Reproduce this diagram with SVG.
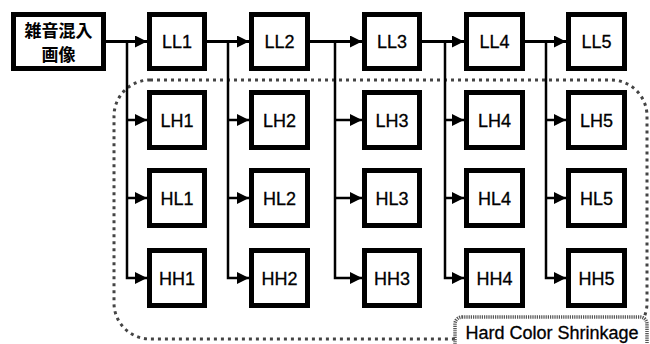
<svg xmlns="http://www.w3.org/2000/svg" width="650" height="344" viewBox="0 0 650 344">
  <style>
    .box { fill: #fff; stroke: #000; stroke-width: 5; }
    .lbl { font-family: "Liberation Sans", Arial, sans-serif; font-size: 18px; fill: #000; text-anchor: middle; stroke: #000; stroke-width: 0.3; }
    .cjk { font-family: "Noto Sans CJK JP", "Noto Sans CJK SC", sans-serif; font-size: 17px; font-weight: bold; fill: #000; text-anchor: middle; }
    .main { stroke: #000; stroke-width: 3; fill: none; }
    .branch { stroke: #000; stroke-width: 2.5; fill: none; }
    .region { fill: none; stroke: #444; stroke-width: 3; stroke-dasharray: 3 4; }
    .tag { fill: #fff; stroke: #555; stroke-width: 3.5; stroke-dasharray: 1.2 1; }
    .tagtext { font-family: "Liberation Sans", Arial, sans-serif; font-size: 18px; fill: #000; text-anchor: middle; stroke: #000; stroke-width: 0.3; }
  </style>
  <defs>
    <marker id="arrow" markerUnits="userSpaceOnUse" markerWidth="13" markerHeight="13" refX="12" refY="6" orient="auto">
      <path d="M0,0 L12,6 L0,12 z" fill="#000"/>
    </marker>
  </defs>

  <rect width="650" height="344" fill="#fff"/>

  <!-- dotted region around the high-frequency sub-bands -->
  <rect id="region" class="region" x="114" y="80" width="533" height="259" rx="36" ry="36"/>

  <g id="connectors">
    <!-- main chain along the low-low row -->
    <path class="main" d="M106,41.5 H147" marker-end="url(#arrow)"/>
    <path class="main" d="M207,41.5 H249" marker-end="url(#arrow)"/>
    <path class="main" d="M310,41.5 H362" marker-end="url(#arrow)"/>
    <path class="main" d="M422,41.5 H464" marker-end="url(#arrow)"/>
    <path class="main" d="M524,41.5 H566" marker-end="url(#arrow)"/>

    <!-- column 1 branches -->
    <path class="branch" d="M127,41.5 V278 H147" marker-end="url(#arrow)"/>
    <path class="branch" d="M127,120 H147" marker-end="url(#arrow)"/>
    <path class="branch" d="M127,198 H147" marker-end="url(#arrow)"/>
    <!-- column 2 branches -->
    <path class="branch" d="M228,41.5 V278 H249" marker-end="url(#arrow)"/>
    <path class="branch" d="M228,120 H249" marker-end="url(#arrow)"/>
    <path class="branch" d="M228,198 H249" marker-end="url(#arrow)"/>
    <!-- column 3 branches -->
    <path class="branch" d="M335,41.5 V278 H362" marker-end="url(#arrow)"/>
    <path class="branch" d="M335,120 H362" marker-end="url(#arrow)"/>
    <path class="branch" d="M335,198 H362" marker-end="url(#arrow)"/>
    <!-- column 4 branches -->
    <path class="branch" d="M445,41.5 V278 H464" marker-end="url(#arrow)"/>
    <path class="branch" d="M445,120 H464" marker-end="url(#arrow)"/>
    <path class="branch" d="M445,198 H464" marker-end="url(#arrow)"/>
    <!-- column 5 branches -->
    <path class="branch" d="M546,41.5 V278 H566" marker-end="url(#arrow)"/>
    <path class="branch" d="M546,120 H566" marker-end="url(#arrow)"/>
    <path class="branch" d="M546,198 H566" marker-end="url(#arrow)"/>
  </g>

  <g id="input">
    <rect class="box" x="13.5" y="14.5" width="90" height="54"/>
    <text class="cjk" x="58.5" y="37">雑音混入</text>
    <text class="cjk" x="58.5" y="61">画像</text>
  </g>

  <!-- column 1 -->
  <g id="LL1"><rect class="box" x="149.5" y="14.5" width="55" height="54"/><text class="lbl" x="177" y="48">LL1</text></g>
  <g id="LH1"><rect class="box" x="149.5" y="92.5" width="55" height="55"/><text class="lbl" x="177" y="127">LH1</text></g>
  <g id="HL1"><rect class="box" x="149.5" y="170.5" width="55" height="55"/><text class="lbl" x="177" y="205">HL1</text></g>
  <g id="HH1"><rect class="box" x="149.5" y="250.5" width="55" height="55"/><text class="lbl" x="177" y="285">HH1</text></g>

  <!-- column 2 -->
  <g id="LL2"><rect class="box" x="251.5" y="14.5" width="56" height="54"/><text class="lbl" x="279.5" y="48">LL2</text></g>
  <g id="LH2"><rect class="box" x="251.5" y="92.5" width="56" height="55"/><text class="lbl" x="279.5" y="127">LH2</text></g>
  <g id="HL2"><rect class="box" x="251.5" y="170.5" width="56" height="55"/><text class="lbl" x="279.5" y="205">HL2</text></g>
  <g id="HH2"><rect class="box" x="251.5" y="250.5" width="56" height="55"/><text class="lbl" x="279.5" y="285">HH2</text></g>

  <!-- column 3 -->
  <g id="LL3"><rect class="box" x="364.5" y="14.5" width="55" height="54"/><text class="lbl" x="392" y="48">LL3</text></g>
  <g id="LH3"><rect class="box" x="364.5" y="92.5" width="55" height="55"/><text class="lbl" x="392" y="127">LH3</text></g>
  <g id="HL3"><rect class="box" x="364.5" y="170.5" width="55" height="55"/><text class="lbl" x="392" y="205">HL3</text></g>
  <g id="HH3"><rect class="box" x="364.5" y="250.5" width="55" height="55"/><text class="lbl" x="392" y="285">HH3</text></g>

  <!-- column 4 -->
  <g id="LL4"><rect class="box" x="466.5" y="14.5" width="56" height="54"/><text class="lbl" x="494.5" y="48">LL4</text></g>
  <g id="LH4"><rect class="box" x="466.5" y="92.5" width="56" height="55"/><text class="lbl" x="494.5" y="127">LH4</text></g>
  <g id="HL4"><rect class="box" x="466.5" y="170.5" width="56" height="55"/><text class="lbl" x="494.5" y="205">HL4</text></g>
  <g id="HH4"><rect class="box" x="466.5" y="250.5" width="56" height="55"/><text class="lbl" x="494.5" y="285">HH4</text></g>

  <!-- column 5 -->
  <g id="LL5"><rect class="box" x="568.5" y="14.5" width="56" height="54"/><text class="lbl" x="596.5" y="48">LL5</text></g>
  <g id="LH5"><rect class="box" x="568.5" y="92.5" width="56" height="55"/><text class="lbl" x="596.5" y="127">LH5</text></g>
  <g id="HL5"><rect class="box" x="568.5" y="170.5" width="56" height="55"/><text class="lbl" x="596.5" y="205">HL5</text></g>
  <g id="HH5"><rect class="box" x="568.5" y="250.5" width="56" height="55"/><text class="lbl" x="596.5" y="285">HH5</text></g>

  <!-- caption tag for the dotted region -->
  <g id="tag">
    <rect class="tag" x="455" y="317" width="192" height="40" rx="7" ry="7"/>
    <text class="tagtext" x="552" y="339">Hard Color Shrinkage</text>
  </g>
</svg>
